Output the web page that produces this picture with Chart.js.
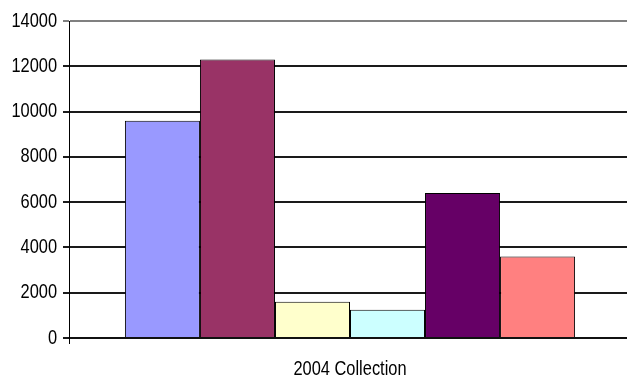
<!DOCTYPE html>
<html>
<head>
<meta charset="utf-8">
<script src="https://cdn.jsdelivr.net/npm/chart.js@4/dist/chart.umd.min.js"></script>
<style>
  html, body { margin: 0; padding: 0; background: #fff; overflow: hidden; }
  #wrap { width: 627px; height: 381px; overflow: hidden; }
</style>
</head>
<body>
<div id="wrap"><canvas id="c" width="631" height="381"></canvas></div>
<script>
const categories = ['2004 Collection'];
const seriesNames = ['Series 1', 'Series 2', 'Series 3', 'Series 4', 'Series 5', 'Series 6'];
const seriesValues = [[9600], [12300], [1600], [1250], [6400], [3600]];
const seriesColors = ['#9999FF', '#993366', '#FFFFCC', '#CCFFFF', '#660066', '#FF8080'];
const yTicks = [0, 2000, 4000, 6000, 8000, 10000, 12000, 14000];

const FONT = "'Liberation Sans', Arial, sans-serif";
const NARROW = 0.82; // reference uses a narrow (condensed) Arial face

const canvas = document.getElementById('c');
const cctx = canvas.getContext('2d');
const origFillText = cctx.fillText;
cctx.fillText = function (t, x, y, mw) {
  if (this.font.indexOf('Liberation Sans') >= 0) {
    this.save();
    this.translate(x, y);
    this.scale(NARROW, 1);
    origFillText.call(this, t, 0, 0);
    this.restore();
  } else {
    origFillText.call(this, t, x, y, mw);
  }
};

new Chart(canvas, {
  type: 'bar',
  data: {
    labels: categories,
    datasets: seriesNames.map((n, i) => ({
      label: n,
      data: seriesValues[i],
      backgroundColor: seriesColors[i],
      borderColor: '#000',
      borderWidth: 1,
      categoryPercentage: 0.801,
      barPercentage: 1.0
    }))
  },
  options: {
    responsive: false,
    animation: false,
    layout: { padding: { top: 21, right: 0, bottom: 0, left: 0 } },
    plugins: { legend: { display: false }, tooltip: { enabled: false } },
    scales: {
      x: {
        offset: true,
        grid: { offset: true, drawOnChartArea: false, drawTicks: true, tickLength: 6, color: '#000', lineWidth: 1 },
        border: { display: true, color: '#111', width: 2 },
        ticks: { color: '#000', font: { family: FONT, size: 20 }, padding: 13 },
        afterFit: s => { s.height = 43; }
      },
      y: {
        min: 0,
        max: 14000,
        afterBuildTicks: s => { s.ticks = yTicks.map(v => ({ value: v })); },
        grid: {
          color: ctx => (ctx.tick && ctx.tick.value === 14000) ? '#808080' : '#1a1a1a',
          lineWidth: 2,
          drawTicks: true,
          tickLength: 6
        },
        border: { display: true, color: '#000', width: 1 },
        ticks: { color: '#000', font: { family: FONT, size: 20 }, padding: 6, callback: v => String(v) },
        afterFit: s => { s.width = 69; }
      }
    }
  }
});
</script>
</body>
</html>
